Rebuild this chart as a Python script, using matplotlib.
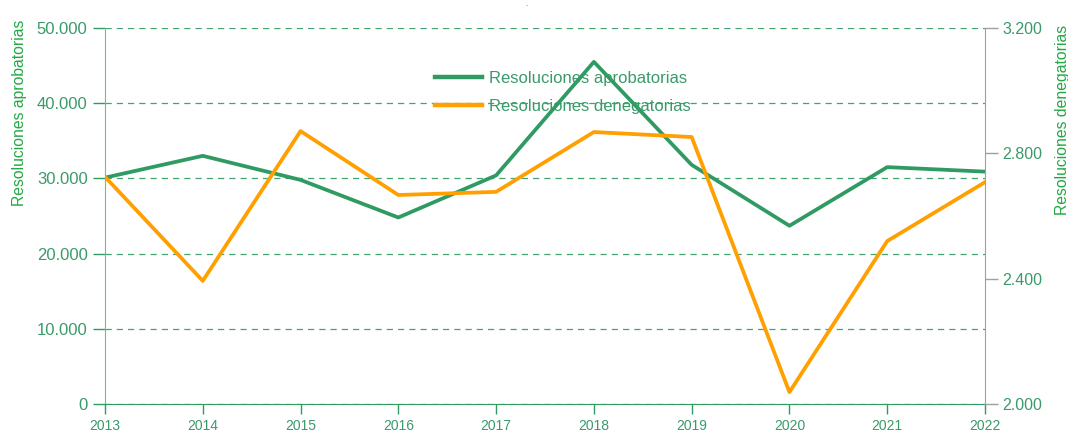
import matplotlib
matplotlib.use("Agg")
import matplotlib.pyplot as plt
from matplotlib.ticker import FuncFormatter

plt.rcParams['font.family'] = ['Liberation Sans', 'DejaVu Sans']

years = [2013, 2014, 2015, 2016, 2017, 2018, 2019, 2020, 2021, 2022]
aprobatorias = [30100, 33000, 29800, 24800, 30400, 45500, 31800, 23700, 31500, 30900]
denegatorias = [2725, 2393, 2871, 2667, 2677, 2868, 2852, 2038, 2520, 2708]

verde = '#2f9a62'
verde_claro = '#6dbf8f'
naranja = '#ff9f00'
texto = '#3a9a6a'
etiqueta = '#22a845'
gris = '#a0a0a0'


def miles(v, pos):
    # separador de miles con punto
    return f"{v:,.0f}".replace(",", ".")


fig = plt.figure(figsize=(10.68, 4.36), dpi=100)
ax = fig.add_axes([105 / 1068, 1 - 404 / 436, 880 / 1068, 376 / 436])
ax2 = ax.twinx()

l1, = ax.plot(years, aprobatorias, color=verde, lw=2.7, label='Resoluciones aprobatorias', zorder=3)
l2, = ax2.plot(years, denegatorias, color=naranja, lw=2.7, label='Resoluciones denegatorias', zorder=3)

ax.set_xlim(2013, 2022)
ax.set_ylim(0, 50000)
ax.set_yticks(range(0, 50001, 10000))
ax.yaxis.set_major_formatter(FuncFormatter(miles))
ax.set_xticks(years)
ax2.set_ylim(2000, 3200)
ax2.set_yticks([2000, 2400, 2800, 3200])
ax2.yaxis.set_major_formatter(FuncFormatter(miles))

ax.grid(axis='y', color=verde, ls=(0, (5, 4)), lw=0.9, alpha=0.9)
ax.set_axisbelow(True)

ax.spines['top'].set_visible(False)
ax2.spines['top'].set_visible(False)
ax.spines['left'].set_color(verde_claro)
ax.spines['bottom'].set_color(verde)
ax2.spines['left'].set_visible(False)
ax2.spines['bottom'].set_visible(False)
ax.spines['right'].set_visible(False)
ax2.spines['right'].set_color(gris)

ax.tick_params(axis='y', colors=verde, labelcolor=texto, labelsize=12, length=9, width=1)
ax.tick_params(axis='x', colors=verde, labelcolor=texto, labelsize=10, length=7, width=1)
ax2.tick_params(axis='y', colors=gris, labelcolor=texto, labelsize=11.5, length=9, width=1)

ax.set_ylabel('Resoluciones aprobatorias', color=etiqueta, fontsize=11.3)
ax2.set_ylabel('Resoluciones denegatorias', color=etiqueta, fontsize=11.3)
ax.yaxis.set_label_coords(-0.0886, 0.774)
ax2.yaxis.set_label_coords(1.0795, 0.755)

ax.legend([l1, l2], [l1.get_label(), l2.get_label()], loc='upper left',
          bbox_to_anchor=(0.375, 0.885), frameon=False, fontsize=12,
          labelcolor=texto, handlelength=2.8, handletextpad=0.45,
          labelspacing=0.75, borderpad=0, borderaxespad=0)
for h in ax.get_legend().get_lines():
    h.set_linewidth(3.2)

# resto del título recortado en el original
fig.text(527 / 1068, 1 - 6.5 / 436, '.', color=verde, fontsize=5, fontweight='bold',
         ha='center', va='baseline')

fig.savefig('out.png', dpi=100)
